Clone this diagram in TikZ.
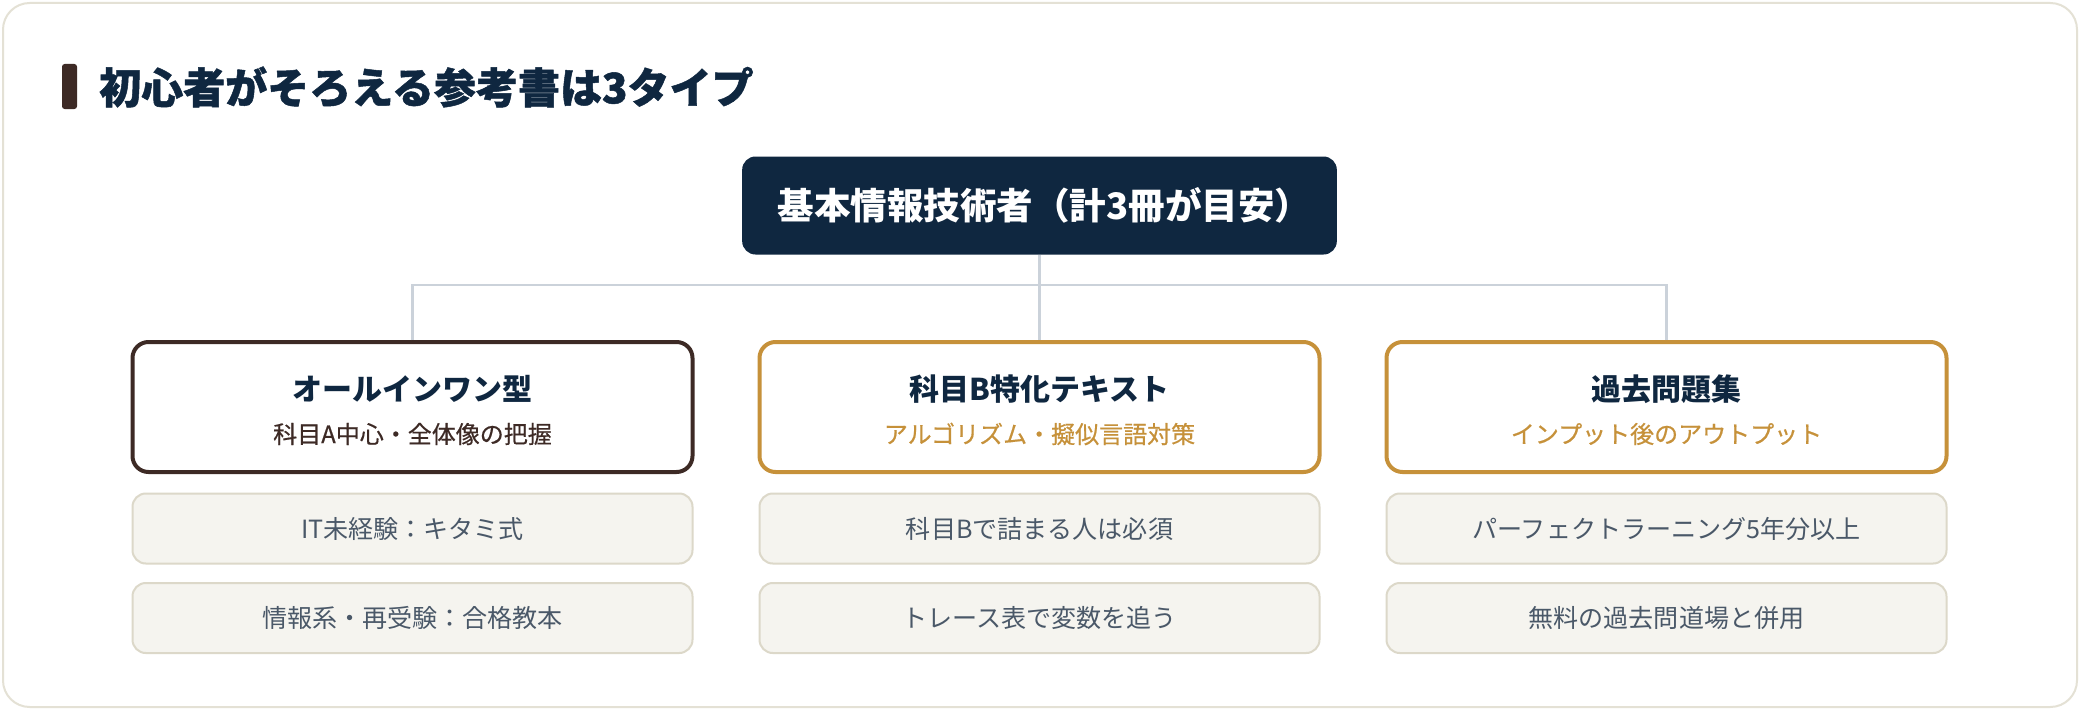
\documentclass[tikz,border=0pt]{standalone}
\usepackage{fontspec}
\setmainfont{Noto Sans CJK JP}
\newfontfamily\heavyjp{Noto Sans CJK JP}[FakeBold=1.2]
\newfontfamily\medjp{Noto Sans CJK JP}[FakeBold=0.5]
\definecolor{navy}{HTML}{0F2740}
\definecolor{gold}{HTML}{C6913A}
\definecolor{brownc}{HTML}{3D2A25}
\definecolor{framec}{HTML}{E4E1D5}
\definecolor{subfill}{HTML}{F5F4EF}
\definecolor{subdraw}{HTML}{DCD8C9}
\definecolor{subtext}{HTML}{4A5868}
\definecolor{connc}{HTML}{CBD2DA}
\tikzset{
  topbox/.style={fill=navy, rounded corners=10pt, minimum width=446pt, minimum height=73.5pt, inner sep=0pt, text=white, font=\bfseries\fontsize{27.4}{32}\selectfont},
  catbox/.style={draw=#1, line width=3pt, fill=white, rounded corners=12pt, minimum width=420pt, minimum height=97.5pt, inner sep=0pt},
  cattitle/.style={text=navy, font=\bfseries\fontsize{22.5}{26}\selectfont, inner sep=0pt},
  catsub/.style={text=#1, font=\medjp\fontsize{18}{22}\selectfont, inner sep=0pt},
  itembox/.style={draw=subdraw, line width=1.5pt, fill=subfill, rounded corners=10pt, minimum width=420pt, minimum height=52.5pt, inner sep=0pt, text=subtext, font=\fontsize{18.8}{23}\selectfont},
  conn/.style={draw=connc, line width=2.2pt},
}
\begin{document}
\begin{tikzpicture}[x=0.75pt,y=-0.75pt]
\useasboundingbox (0,0) rectangle (2080,710);
\fill[white] (0,0) rectangle (2080,710);
\draw[draw=framec, line width=1.5pt, fill=white, rounded corners=20pt] (3,3) rectangle (2077,707);
% title
\fill[brownc, rounded corners=2pt] (62,64) rectangle (77,109);
\node[anchor=west, inner sep=0pt, text=navy, font=\heavyjp\bfseries\fontsize{31.5}{36}\selectfont] (title) at (99,87) {初心者がそろえる参考書は3タイプ};
% top
\node[topbox] (top) at (1039.5,205.5) {\hspace*{7.5pt}基本情報技術者（計3冊が目安）};
% categories
\node[catbox=brownc] (c1) at (412.5,407) {};
\node[catbox=gold] (c2) at (1039.5,407) {};
\node[catbox=gold] (c3) at (1666.5,407) {};
\node[cattitle] (t1) at (412.5,389) {オールインワン型};
\node[catsub=brownc] (s1) at (412.5,434) {科目A中心・全体像の把握};
\node[cattitle] (t2) at (1039.5,389) {科目B特化テキスト};
\node[catsub=gold] (s2) at (1039.5,434) {アルゴリズム・擬似言語対策};
\node[cattitle] (t3) at (1666.5,389) {過去問題集};
\node[catsub=gold] (s3) at (1666.5,434) {インプット後のアウトプット};
% items
\node[itembox] (i11) at (412.5,528.5) {IT未経験：キタミ式};
\node[itembox] (i12) at (412.5,618) {情報系・再受験：合格教本};
\node[itembox] (i21) at (1039.5,528.5) {科目Bで詰まる人は必須};
\node[itembox] (i22) at (1039.5,618) {トレース表で変数を追う};
\node[itembox] (i31) at (1666.5,528.5) {パーフェクトラーニング5年分以上};
\node[itembox] (i32) at (1666.5,618) {無料の過去問道場と併用};
% connectors
\coordinate (j) at (1039.5,285);
\draw[conn] (top.south) -- (j);
\draw[conn] (c1.north) |- (j);
\draw[conn] (c3.north) |- (j);
\draw[conn] (j) -- (c2.north);
\end{tikzpicture}
\end{document}
